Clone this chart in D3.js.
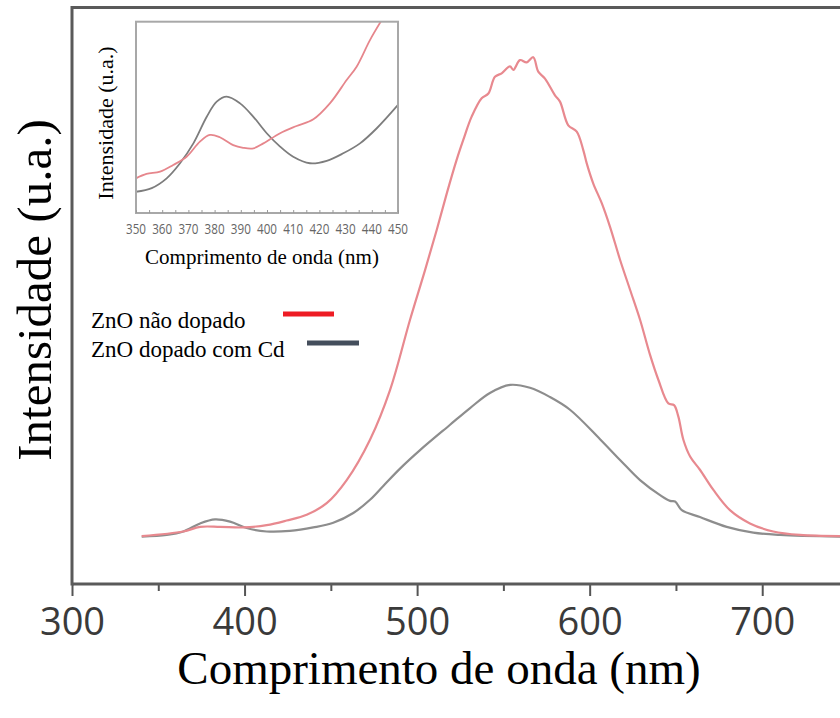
<!DOCTYPE html>
<html><head><meta charset="utf-8">
<script src="https://cdn.jsdelivr.net/npm/d3@7/dist/d3.min.js"></script>
<style>body{margin:0;background:#fff}svg{display:block}</style>
</head><body><svg id="c" width="840" height="718"></svg>
<script>
// ---------- data ----------
const seriesNames = ["ZnO não dopado", "ZnO dopado com Cd"];
const xTickValues = [300, 400, 500, 600, 700];
const xMinorTicks = [350, 450, 550, 650, 750];
const insetTickValues = [350, 360, 370, 380, 390, 400, 410, 420, 430, 440, 450];

const mainUndopedNm = [340.4,364.5,374.2,385.8,399.3,412.8,424.4,436.0,447.6,459.2,472.7,484.3,495.9,504.6,511.4,517.2,522.9,526.8,531.6,537.4,541.3,545.1,549.0,553.8,555.8,559.6,563.5,567.3,570.2,574.1,579.9,582.8,587.6,592.5,596.3,598.3,602.1,607.0,611.8,617.6,623.4,629.2,635.0,639.8,645.6,648.9,651.4,654.3,658.2,663.9,671.7,681.3,692.9,706.4,721.9,745.1];
const mainUndopedI = [8.3,9.1,9.9,9.9,9.8,10.2,11.0,12.0,14.0,18.0,25.0,33.6,45.8,54.4,61.4,67.7,73.5,77.0,81.0,84.2,85.0,87.9,88.5,89.7,89.1,90.8,90.4,91.3,88.8,87.6,84.7,83.6,79.5,78.4,75.2,72.9,69.4,66.0,61.9,56.2,51.0,45.8,39.7,35.4,31.3,31.0,29.0,25.0,22.1,19.8,16.3,12.8,10.5,9.1,8.5,8.3];

const mainDopedNm = [340.4,354.9,364.5,374.2,382.9,391.6,401.2,412.8,426.3,439.8,451.4,463.0,472.7,480.4,490.1,501.7,519.1,530.7,542.2,553.8,565.4,577.0,588.6,606.0,617.6,629.2,640.8,646.6,649.5,653.4,663.9,679.4,694.8,710.3,745.1];
const mainDopedI = [8.2,8.5,9.1,10.5,11.2,10.8,9.7,9.1,9.2,9.8,10.6,12.3,14.6,17.0,20.0,23.2,27.6,30.5,33.1,34.5,34.0,32.4,30.2,25.1,21.5,18.0,15.4,14.4,14.3,12.8,11.6,9.9,8.9,8.5,8.2];

const insetUndopedNm = [350,354,359.2,364.2,369.3,374.4,378.2,382,387.1,390.9,394.8,398.6,405,411.3,417.7,424,430.4,434.2,439.3,443.8,448];
const insetUndopedI = [18.1,20.4,21.6,25.1,29.4,37.3,40.8,39.6,35.5,34.1,33.8,36.4,41.7,45.5,49.0,57.3,69.5,76.5,90.4,100.9,110];

const insetDopedNm = [350,356,361.7,366.8,371.9,377,380.8,384.6,389.7,394.8,399.9,405,410,416.4,422.8,429.1,435.5,441.9,450];
const insetDopedI = [11.1,13.0,18.1,26.0,36.4,50.3,58.2,60.8,57.3,50.3,41.7,34.7,29.4,26.0,27.3,31.2,36.4,44.3,56.5];

// ---------- drawing ----------
const svg = d3.select("#c");
svg.append("rect").attr("width",840).attr("height",718).attr("fill","#fff");

const x = d3.scaleLinear().domain([300, 750]).range([72, 848.5]);
const y = d3.scaleLinear().domain([0, 100]).range([584, 7]);

const zip = (a,b) => a.map((v,i)=>[v,b[i]]);
const line = d3.line().x(d=>x(d[0])).y(d=>y(d[1])).curve(d3.curveCatmullRom.alpha(0.5));

svg.append("path").datum(zip(mainDopedNm, mainDopedI)).attr("d", line)
  .attr("fill","none").attr("stroke","#8d8d8d").attr("stroke-width",2.2);
svg.append("path").datum(zip(mainUndopedNm, mainUndopedI)).attr("d", line)
  .attr("fill","none").attr("stroke","#e8898f").attr("stroke-width",2.2);

// axes frame
const xAxis = d3.axisBottom(x).tickValues(xTickValues).tickSize(12).tickFormat(d3.format("d"));
const gx = svg.append("g").attr("transform","translate(0,584)").call(xAxis);
gx.select(".domain").remove();
gx.selectAll(".tick line").attr("stroke","#555").attr("stroke-width",2);
gx.selectAll(".tick text").attr("font-family","'Open Sans', sans-serif").attr("font-size",38)
  .attr("fill","#3a3a3a").attr("dy",null).attr("y",51);
const gm = svg.append("g").attr("transform","translate(0,584)")
  .call(d3.axisBottom(x).tickValues(xMinorTicks).tickSize(7).tickFormat(""));
gm.select(".domain").remove();
gm.selectAll(".tick line").attr("stroke","#555").attr("stroke-width",2);

svg.append("line").attr("x1",72).attr("x2",840).attr("y1",584).attr("y2",584).attr("stroke","#5a5a5a").attr("stroke-width",3);
svg.append("line").attr("x1",72).attr("x2",840).attr("y1",7.5).attr("y2",7.5).attr("stroke","#5a5a5a").attr("stroke-width",3);
svg.append("line").attr("x1",72).attr("x2",72).attr("y1",6).attr("y2",585.5).attr("stroke","#5a5a5a").attr("stroke-width",3);

// titles
svg.append("text").attr("x",439).attr("y",684).attr("text-anchor","middle")
  .attr("font-family","'Liberation Serif', 'Times New Roman', serif").attr("font-size",47).attr("fill","#000")
  .text("Comprimento de onda (nm)");
svg.append("text").attr("transform","translate(51,290) rotate(-90)").attr("text-anchor","middle")
  .attr("font-family","'Liberation Serif', 'Times New Roman', serif").attr("font-size",49).attr("fill","#000")
  .text("Intensidade (u.a.)");

// legend
const legColors = ["#ee1c24", "#444e5c"];
const legY = [328, 357];
const legLineX = [[283,334],[307,359]];
seriesNames.forEach((n,i)=>{
  svg.append("text").attr("x",91).attr("y",legY[i])
    .attr("font-family","'Liberation Serif', 'Times New Roman', serif").attr("font-size",23).attr("fill","#000").text(n);
  svg.append("line").attr("x1",legLineX[i][0]).attr("x2",legLineX[i][1])
    .attr("y1",legY[i]-14).attr("y2",legY[i]-14).attr("stroke",legColors[i]).attr("stroke-width",5);
});

// inset
const ix = d3.scaleLinear().domain([350,450]).range([136,398]);
const iy = d3.scaleLinear().domain([0,100]).range([213,21.7]);
const inset = svg.append("g");
inset.append("rect").attr("x",136).attr("y",21.7).attr("width",262).attr("height",191.3).attr("fill","#fff");
svg.append("defs").append("clipPath").attr("id","ic").append("rect")
  .attr("x",136).attr("y",21.7).attr("width",262).attr("height",191.3);
const iline = d3.line().x(d=>ix(d[0])).y(d=>iy(d[1])).curve(d3.curveCatmullRom.alpha(0.5));
const ic = inset.append("g").attr("clip-path","url(#ic)");
ic.append("path").datum(zip(insetDopedNm, insetDopedI)).attr("d", iline)
  .attr("fill","none").attr("stroke","#7d7d7d").attr("stroke-width",1.8);
ic.append("path").datum(zip(insetUndopedNm, insetUndopedI)).attr("d", iline)
  .attr("fill","none").attr("stroke","#e6868c").attr("stroke-width",1.8);
inset.append("rect").attr("x",136).attr("y",21.7).attr("width",262).attr("height",191.3)
  .attr("fill","none").attr("stroke","#a8a8a8").attr("stroke-width",2);
const ia = inset.append("g").attr("transform","translate(0,213)")
  .call(d3.axisTop(ix).tickValues(d3.range(350,451,5)).tickSize(3).tickFormat(""));
ia.select(".domain").remove();
ia.selectAll(".tick line").attr("stroke","#999").attr("stroke-width",1);
inset.selectAll("text.itl").data(insetTickValues).enter().append("text").attr("class","itl")
  .attr("x",d=>ix(d)).attr("y",234).attr("text-anchor","middle")
  .attr("font-family","'Open Sans', sans-serif").attr("font-size",14).attr("fill","#666")
  .attr("textLength",20).attr("lengthAdjust","spacingAndGlyphs").text(d=>d);
inset.append("text").attr("x",262).attr("y",264).attr("text-anchor","middle")
  .attr("font-family","'Liberation Serif', 'Times New Roman', serif").attr("font-size",21).attr("fill","#000")
  .text("Comprimento de onda (nm)");
inset.append("text").attr("transform","translate(113,123) rotate(-90)").attr("text-anchor","middle")
  .attr("font-family","'Liberation Serif', 'Times New Roman', serif").attr("font-size",22).attr("fill","#000")
  .text("Intensidade (u.a.)");
</script></body></html>
